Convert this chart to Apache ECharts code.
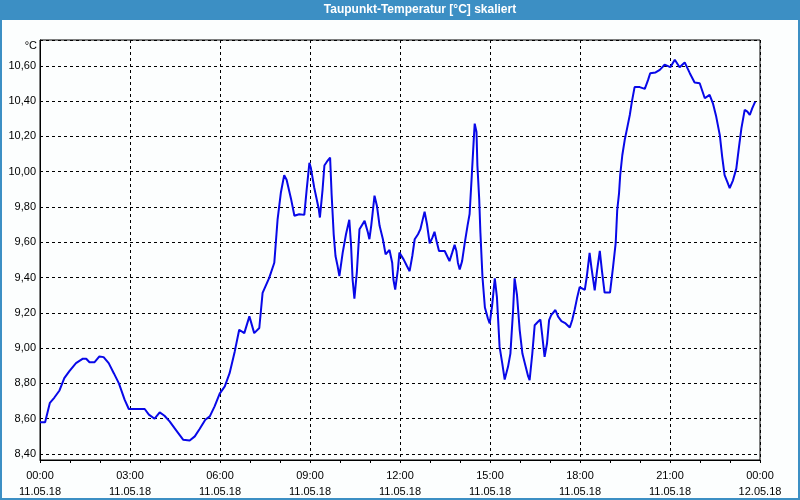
<!DOCTYPE html>
<html>
<head>
<meta charset="utf-8">
<script src="https://cdn.jsdelivr.net/npm/echarts@6/dist/echarts.min.js"></script>
<style>
html,body{margin:0;padding:0;background:#fcfefe;}
#chart{width:800px;height:500px;}
</style>
</head>
<body>
<div id="chart"></div>
<script>
const titleText = 'Taupunkt-Temperatur [°C] skaliert';
const unitText = '°C';
const timeLabels = ['00:00','03:00','06:00','09:00','12:00','15:00','18:00','21:00','00:00'];
const dateLabels = ['11.05.18','11.05.18','11.05.18','11.05.18','11.05.18','11.05.18','11.05.18','11.05.18','12.05.18'];

// hours since 00:00 11.05.18
const hours = [0,0.17,0.33,0.48,0.65,0.81,0.98,1.20,1.43,1.54,1.65,1.82,1.98,2.12,2.29,2.46,2.63,2.82,2.96,3.49,3.63,3.82,3.99,4.15,4.32,4.54,4.77,4.99,5.16,5.32,5.51,5.66,5.82,5.99,6.16,6.32,6.49,6.64,6.81,6.98,7.14,7.31,7.42,7.64,7.81,7.92,8.03,8.14,8.22,8.37,8.48,8.64,8.81,8.89,8.98,9.03,9.14,9.29,9.33,9.42,9.48,9.59,9.67,9.72,9.79,9.85,9.92,9.98,10.09,10.2,10.31,10.37,10.42,10.48,10.56,10.65,10.82,10.93,10.98,11.04,11.09,11.15,11.23,11.32,11.43,11.52,11.65,11.74,11.78,11.84,11.93,11.98,12.12,12.23,12.32,12.41,12.49,12.6,12.68,12.76,12.82,12.9,12.99,13.08,13.15,13.23,13.3,13.49,13.57,13.65,13.74,13.82,13.88,13.93,13.99,14.07,14.16,14.25,14.32,14.4,14.46,14.49,14.55,14.58,14.64,14.68,14.75,14.83,14.93,14.99,15.07,15.16,15.23,15.32,15.41,15.49,15.6,15.68,15.77,15.82,15.9,15.99,16.08,16.19,16.27,16.32,16.41,16.49,16.6,16.68,16.74,16.82,16.9,16.97,17.04,17.18,17.27,17.38,17.52,17.66,17.74,17.82,17.9,17.99,18.16,18.23,18.32,18.38,18.49,18.57,18.66,18.73,18.82,19.0,19.1,19.19,19.24,19.3,19.34,19.41,19.49,19.57,19.66,19.73,19.82,19.99,20.16,20.27,20.34,20.52,20.66,20.82,21.01,21.16,21.32,21.49,21.66,21.82,21.99,22.16,22.32,22.43,22.54,22.66,22.74,22.82,22.91,22.99,23.1,23.21,23.3,23.38,23.49,23.58,23.66,23.74,23.84];
const dewPoint = [8.58,8.58,8.69,8.72,8.76,8.83,8.87,8.915,8.94,8.94,8.92,8.92,8.953,8.949,8.915,8.858,8.80,8.708,8.655,8.655,8.623,8.60,8.636,8.617,8.585,8.534,8.481,8.477,8.50,8.542,8.594,8.613,8.67,8.742,8.783,8.858,8.98,9.104,9.085,9.18,9.085,9.114,9.313,9.398,9.484,9.73,9.882,9.98,9.954,9.844,9.75,9.759,9.755,9.90,10.05,10.02,9.91,9.79,9.74,9.90,10.035,10.063,10.08,9.873,9.645,9.522,9.465,9.408,9.541,9.645,9.727,9.579,9.389,9.28,9.427,9.674,9.721,9.655,9.617,9.693,9.769,9.864,9.807,9.693,9.617,9.531,9.556,9.484,9.389,9.332,9.446,9.541,9.503,9.465,9.436,9.522,9.617,9.645,9.674,9.731,9.773,9.702,9.594,9.626,9.659,9.598,9.55,9.55,9.522,9.493,9.541,9.585,9.55,9.484,9.446,9.493,9.598,9.693,9.76,10.0,10.187,10.272,10.225,10.035,9.845,9.655,9.40,9.23,9.168,9.14,9.24,9.395,9.291,9.007,8.912,8.822,8.894,8.969,9.216,9.395,9.301,9.102,8.969,8.894,8.841,8.818,8.969,9.13,9.149,9.162,9.073,8.95,9.026,9.159,9.187,9.216,9.178,9.153,9.14,9.117,9.159,9.216,9.282,9.346,9.33,9.41,9.54,9.458,9.327,9.441,9.551,9.441,9.315,9.315,9.458,9.596,9.78,9.875,9.98,10.093,10.179,10.245,10.321,10.397,10.479,10.479,10.469,10.52,10.558,10.562,10.577,10.606,10.592,10.634,10.592,10.619,10.558,10.505,10.501,10.416,10.435,10.387,10.312,10.207,10.084,9.98,9.942,9.907,9.951,10.017,10.141,10.245,10.35,10.34,10.321,10.359,10.397];

const yMin = 8.366, yMax = 10.746;
const FONT = 'Liberation Sans';

const chart = echarts.init(document.getElementById('chart'), null, {renderer:'canvas'});
chart.setOption({
  animation: false,
  backgroundColor: '#fcfefe',
  grid: {left: 40, right: 40, top: 40, bottom: 40, show: true, borderColor: '#000', borderWidth: 1, backgroundColor: 'transparent'},
  xAxis: {
    type: 'value', min: 0, max: 24, interval: 3,
    axisLine: {show: true, onZero: false, lineStyle: {color: '#000', width: 1}},
    axisTick: {show: true, length: 3, lineStyle: {color: '#000'}},
    minorTick: {show: true, splitNumber: 3, length: 3, lineStyle: {color: '#000'}},
    splitLine: {show: true, lineStyle: {color: '#000', type: [3,3], width: 1}},
    axisLabel: {
      color: '#000', fontFamily: FONT, fontSize: 11, margin: 8, lineHeight: 16,
      formatter: function (v) { const i = Math.round(v / 3); return timeLabels[i] + '\n' + dateLabels[i]; }
    }
  },
  yAxis: {
    type: 'value', min: yMin, max: yMax,
    splitNumber: 12, minInterval: 0.2, maxInterval: 0.2,
    axisLine: {show: true, onZero: false, lineStyle: {color: '#000', width: 1}},
    axisTick: {show: false},
    splitLine: {show: true, lineStyle: {color: '#000', type: [3,3], width: 1}},
    axisLabel: {
      color: '#000', fontFamily: FONT, fontSize: 11, margin: 4,
      showMinLabel: false, showMaxLabel: false,
      formatter: function (v) {
        const r = Math.round(v * 5) / 5;
        if (Math.abs(r - v) > 0.001) return '';
        return r.toFixed(2).replace('.', ',');
      }
    }
  },
  series: [{
    type: 'line',
    data: hours.map((h, i) => [h, dewPoint[i]]),
    showSymbol: false,
    lineStyle: {color: '#0808e8', width: 2},
    itemStyle: {color: '#0808e8'}
  }],
  graphic: [
    {type: 'rect', left: 0, top: 0, shape: {width: 800, height: 20}, style: {fill: '#3c8fc4'}},
    {type: 'rect', left: 0, top: 20, shape: {width: 2, height: 480}, style: {fill: '#3c8fc4'}},
    {type: 'rect', right: 0, top: 20, shape: {width: 2, height: 480}, style: {fill: '#3c8fc4'}},
    {type: 'rect', left: 0, bottom: 0, shape: {width: 800, height: 2}, style: {fill: '#3c8fc4'}},
    {type: 'text', x: 420, y: 10, style: {text: titleText, fill: '#fff', font: 'bold 12px "Liberation Sans"', textAlign: 'center', textVerticalAlign: 'middle'}},
    {type: 'text', x: 37, y: 46, style: {text: unitText, fill: '#000', font: '11px "Liberation Sans"', textAlign: 'right', textVerticalAlign: 'middle'}}
  ]
});
</script>
</body>
</html>
